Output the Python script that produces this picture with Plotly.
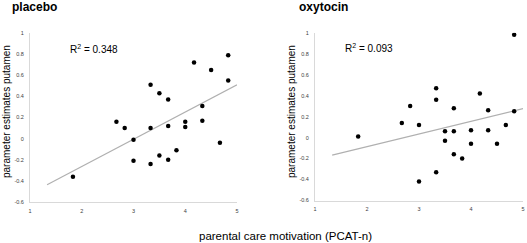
import numpy as np
import plotly.graph_objects as go

# ---- data ----
placebo_x = [1.83, 2.67, 2.83, 3.0, 3.0, 3.33, 3.33, 3.33, 3.5, 3.5, 3.67, 3.67, 3.67,
             3.83, 4.0, 4.0, 4.17, 4.33, 4.33, 4.5, 4.67, 4.83, 4.83]
placebo_y = [-0.36, 0.16, 0.10, -0.01, -0.21, 0.51, 0.10, -0.24, 0.43, -0.16, 0.37, 0.12, -0.20,
             -0.11, 0.16, 0.11, 0.72, 0.31, 0.17, 0.65, -0.04, 0.79, 0.55]
oxytocin_x = [1.83, 2.67, 2.83, 3.0, 3.0, 3.33, 3.33, 3.33, 3.5, 3.5, 3.67, 3.67, 3.67,
              3.83, 4.0, 4.0, 4.17, 4.33, 4.33, 4.5, 4.67, 4.83, 4.83]
oxytocin_y = [0.01, 0.14, 0.30, 0.12, -0.42, 0.47, 0.36, -0.33, 0.06, -0.03, 0.28, 0.06, -0.16,
              -0.20, 0.07, -0.06, 0.42, 0.26, 0.07, -0.06, 0.12, 0.98, 0.25]
r2_labels = ["R<sup>2</sup> = 0.348", "R<sup>2</sup> = 0.093"]
panel_titles = ["placebo", "oxytocin"]
trend_x_range = [1.33, 5.0]
x_ticks = [1, 2, 3, 4, 5]
y_ticks = [-0.6, -0.4, -0.2, 0, 0.2, 0.4, 0.6, 0.8, 1]
y_tick_text = ["-0.6", "-0.4", "-0.2", "0", "0.2", "0.4", "0.6", "0.8", "1"]

W, H = 527, 243
fig = go.Figure()

panels = [
    (placebo_x, placebo_y, "x", "y"),
    (oxytocin_x, oxytocin_y, "x2", "y2"),
]
for xs, ys, xa, ya in panels:
    slope, intercept = np.polyfit(xs, ys, 1)
    tx = np.array(trend_x_range)
    fig.add_trace(go.Scatter(x=tx, y=slope * tx + intercept, mode="lines",
                             line=dict(color="#b0b0b0", width=1.2),
                             xaxis=xa, yaxis=ya, showlegend=False, hoverinfo="skip"))
    fig.add_trace(go.Scatter(x=xs, y=ys, mode="markers",
                             marker=dict(color="black", size=4.5),
                             xaxis=xa, yaxis=ya, showlegend=False))

axis_common = dict(showgrid=False, zeroline=False, showline=True, linecolor="#d9d9d9",
                   linewidth=1, ticks="", automargin=False,
                   tickfont=dict(size=5.5, color="#404040", family="Liberation Sans, Arial"))
xdoms = [[30 / W, 237 / W], [315 / W, 523 / W]]
ydoms = [[1 - 202 / H, 1 - 33 / H], [1 - 200.5 / H, 1 - 32.7 / H]]

for i in range(2):
    sx = "" if i == 0 else "2"
    fig.layout["xaxis" + sx] = dict(axis_common, domain=xdoms[i], range=[1, 5],
                                    tickvals=x_ticks, anchor="y" + sx, ticklabelstandoff=3)
    fig.layout["yaxis" + sx] = dict(axis_common, domain=ydoms[i], range=[-0.6, 1],
                                    tickvals=y_ticks, ticktext=y_tick_text,
                                    anchor="x" + sx, ticklabelstandoff=4)

ann = []
# R^2 labels
ann.append(dict(x=1.74, y=0.85, xref="x", yref="y", text=r2_labels[0], showarrow=False,
                xanchor="left", yanchor="middle", font=dict(size=10, color="black")))
ann.append(dict(x=1.54, y=0.85, xref="x2", yref="y2", text=r2_labels[1], showarrow=False,
                xanchor="left", yanchor="middle", font=dict(size=10, color="black")))
# panel titles
ann.append(dict(x=10 / W, y=1 - 7 / H, xref="paper", yref="paper", text="<b>" + panel_titles[0] + "</b>",
                showarrow=False, xanchor="left", yanchor="middle", font=dict(size=12, color="black")))
ann.append(dict(x=297 / W, y=1 - 7 / H, xref="paper", yref="paper", text="<b>" + panel_titles[1] + "</b>",
                showarrow=False, xanchor="left", yanchor="middle", font=dict(size=12, color="black")))
# y-axis titles
ann.append(dict(x=6 / W, y=1 - 112 / H, xref="paper", yref="paper", text="parameter estimates putamen",
                showarrow=False, textangle=-90, xanchor="center", yanchor="middle",
                font=dict(size=10, color="black")))
ann.append(dict(x=291 / W, y=1 - 112 / H, xref="paper", yref="paper", text="parameter estimates putamen",
                showarrow=False, textangle=-90, xanchor="center", yanchor="middle",
                font=dict(size=10, color="black")))
# x-axis title
ann.append(dict(x=285 / W, y=1 - 236 / H, xref="paper", yref="paper",
                text="parental care motivation (PCAT-n)", showarrow=False,
                xanchor="center", yanchor="middle", font=dict(size=11.5, color="black")))

fig.update_layout(width=W, height=H, margin=dict(l=0, r=0, t=0, b=0),
                  paper_bgcolor="white", plot_bgcolor="white",
                  font=dict(family="Liberation Sans, Arial, sans-serif", color="black"),
                  annotations=ann)

fig.write_html("out.html", config={"displayModeBar": False},
               post_script="document.body.style.margin='0';document.body.style.overflow='hidden';")
